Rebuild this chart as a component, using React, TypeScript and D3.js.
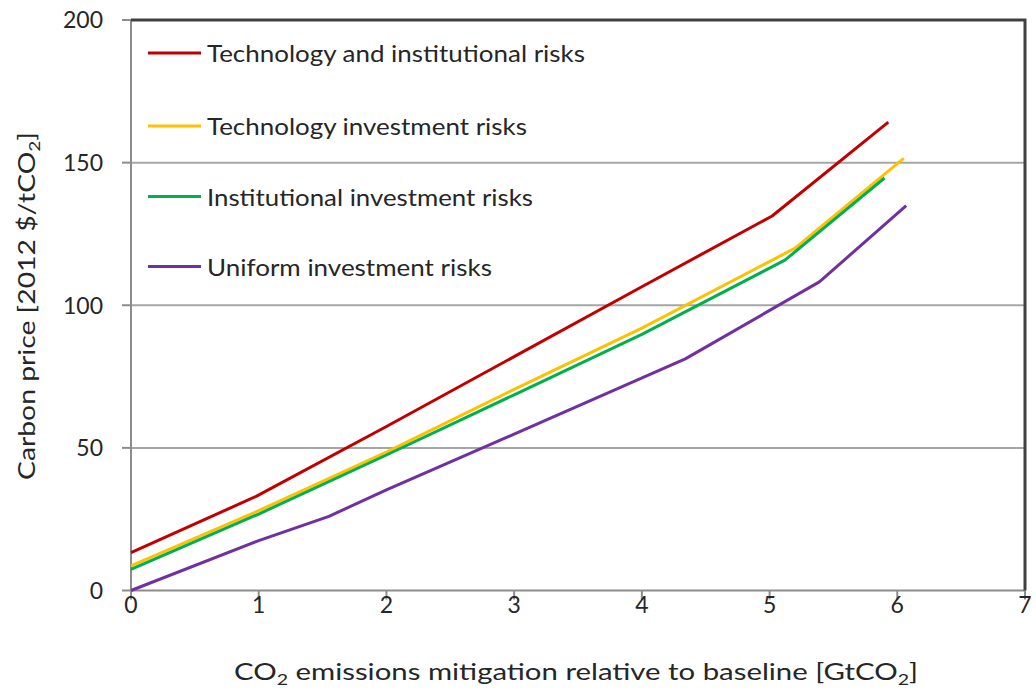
import React from 'react';
import * as d3 from 'd3';

// mitigation [GtCO2] / carbon price [2012 $/tCO2]
const techInstX = [0, 0.98, 2, 3, 4, 5.02, 5.93];
const techInstY = [13.3, 33, 57.5, 82, 106.5, 131.3, 164.2];

const techX = [0, 1, 2, 3, 4, 5.2, 6.05];
const techY = [8.6, 28, 48.5, 70.5, 92, 120, 151.5];

const instX = [0, 1, 2, 3, 4, 5.12, 5.9];
const instY = [7.4, 26.8, 47.5, 68.6, 89.8, 115.8, 144.6];

const uniformX = [0, 1, 1.55, 2, 3, 4.34, 5.39, 6.07];
const uniformY = [0, 17.5, 26, 35.3, 54.8, 81.2, 108.2, 134.9];

const seriesNames = [
  'Technology and institutional risks',
  'Technology investment risks',
  'Institutional investment risks',
  'Uniform investment risks',
];
const seriesColors = ['#C00000', '#FFC000', '#00B050', '#7030A0'];
const legendWidths = [378, 320, 326, 285];

const xTicks = [0, 1, 2, 3, 4, 5, 6, 7];
const yTicks = [0, 50, 100, 150, 200];

const W = 1036;
const H = 698;
const left = 131;
const right = 1025;
const top = 20;
const bottom = 590.5;
const FONT = 'Lato, "Open Sans", sans-serif';

export default function App() {
  const x = d3.scaleLinear().domain([0, 7]).range([left, right]);
  const y = d3.scaleLinear().domain([0, 200]).range([bottom, top]);

  const series = [
    { xs: techInstX, ys: techInstY },
    { xs: techX, ys: techY },
    { xs: instX, ys: instY },
    { xs: uniformX, ys: uniformY },
  ];

  const line = d3
    .line<[number, number]>()
    .x(d => x(d[0]))
    .y(d => y(d[1]));

  const legendY = [53, 126, 196.5, 266.5];

  return (
    <svg
      width={W}
      height={H}
      style={{ position: 'absolute', left: 0, top: 0, background: '#fff' }}
      fontFamily={FONT}
    >
      {/* gridlines */}
      {yTicks.filter(t => t > 0 && t < 200).map(t => (
        <line key={t} x1={left} x2={right} y1={y(t)} y2={y(t)} stroke="#a6a6a6" strokeWidth={2} />
      ))}

      {/* axes */}
      <line x1={left} x2={left} y1={top} y2={bottom} stroke="#8c8c8c" strokeWidth={2} />
      <line x1={left} x2={right} y1={bottom} y2={bottom} stroke="#8c8c8c" strokeWidth={2} />
      {yTicks.map(t => (
        <line key={'yt' + t} x1={left - 9} x2={left} y1={y(t)} y2={y(t)} stroke="#8c8c8c" strokeWidth={2} />
      ))}
      {xTicks.map(t => (
        <line key={'xt' + t} x1={x(t)} x2={x(t)} y1={bottom} y2={bottom + 9} stroke="#8c8c8c" strokeWidth={2} />
      ))}

      {/* plot border top / right */}
      <path d={`M${left},${top}H${right}V${bottom}`} fill="none" stroke="#404040" strokeWidth={3} />

      {/* tick labels */}
      {yTicks.map(t => (
        <text key={'yl' + t} x={103} y={y(t)} dy="0.36em" textAnchor="end" fontSize={23} fill="#262626">
          {t}
        </text>
      ))}
      {xTicks.map(t => (
        <text key={'xl' + t} x={x(t)} y={613} textAnchor="middle" fontSize={23} fill="#262626">
          {t}
        </text>
      ))}

      {/* series */}
      {series.map((s, i) => (
        <path
          key={'s' + i}
          d={line(s.xs.map((v, j) => [v, s.ys[j]] as [number, number])) || ''}
          fill="none"
          stroke={seriesColors[i]}
          strokeWidth={3}
          strokeLinejoin="round"
        />
      ))}

      {/* legend */}
      {seriesNames.map((n, i) => (
        <g key={'lg' + i}>
          <line x1={148} x2={201} y1={legendY[i]} y2={legendY[i]} stroke={seriesColors[i]} strokeWidth={3} />
          <text
            x={207}
            y={legendY[i] + 9}
            fontSize={24}
            fill="#262626"
            textLength={legendWidths[i]}
            lengthAdjust="spacingAndGlyphs"
          >
            {n}
          </text>
        </g>
      ))}

      {/* axis titles */}
      <text
        x={234}
        y={680}
        fontSize={24}
        fill="#262626"
        textLength={684}
        lengthAdjust="spacingAndGlyphs"
      >
        CO<tspan fontSize={16} dy={5}>2</tspan>
        <tspan dy={-5}> emissions mitigation relative to baseline [GtCO</tspan>
        <tspan fontSize={16} dy={5}>2</tspan>
        <tspan dy={-5}>]</tspan>
      </text>
      <text
        transform={`translate(35,306) rotate(-90)`}
        textAnchor="middle"
        fontSize={24}
        fill="#262626"
        textLength={348}
        lengthAdjust="spacingAndGlyphs"
      >
        Carbon price [2012 $/tCO<tspan fontSize={16} dy={5}>2</tspan>
        <tspan dy={-5}>]</tspan>
      </text>
    </svg>
  );
}
